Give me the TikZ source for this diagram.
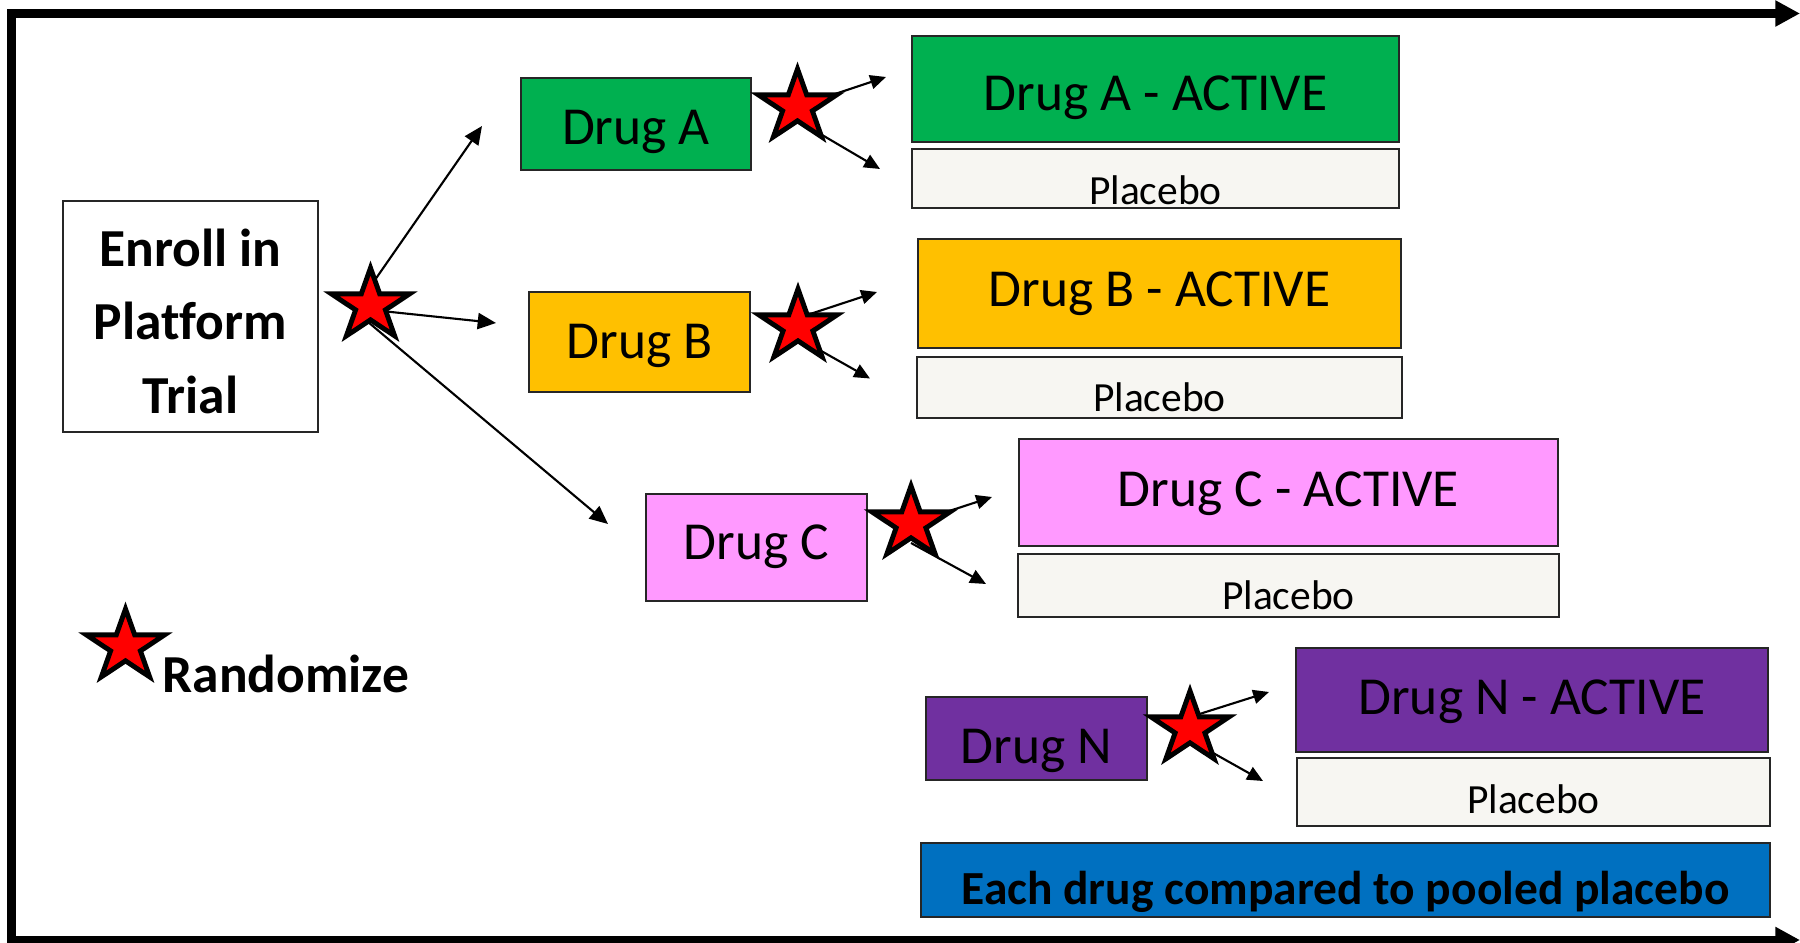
\documentclass[tikz,border=0pt]{standalone}
\usepackage{fontspec}
\setmainfont{Carlito}[Ligatures=NoCommon]
\usetikzlibrary{arrows.meta,calc}
\definecolor{drugA}{HTML}{00B050}
\definecolor{drugB}{HTML}{FFC000}
\definecolor{drugC}{HTML}{FF99FF}
\definecolor{drugN}{HTML}{7030A0}
\definecolor{pooled}{HTML}{0070C0}
\definecolor{placebofill}{HTML}{F7F6F2}
\begin{document}
\begin{tikzpicture}[x=0.01cm, y=-0.01cm,
  box/.style 2 args={draw=black!85, line width=0.6pt, minimum width=#1*0.01cm,
    minimum height=#2*0.01cm, inner sep=0pt, outer sep=0pt},
  drugtxt/.style={font=\fontsize{15.2}{18}\selectfont, anchor=base, inner sep=0pt},
  placebotxt/.style={font=\fontsize{11.8}{14}\selectfont, anchor=base, inner sep=0pt},
  boldtxt/.style={font=\fontsize{15.2}{18}\selectfont\bfseries, anchor=base, inner sep=0pt},
  pooledtxt/.style={font=\fontsize{13.5}{16}\selectfont\bfseries, anchor=base, inner sep=0pt},
  link/.style={line width=0.6pt, -{Triangle[length=4.5pt,width=4pt]}},
  biglink/.style={line width=0.6pt, -{Triangle[length=5.2pt,width=4.6pt]}},
  frameline/.style={line width=2.4pt, line join=miter},
  rstar/.pic={\draw[fill=red, line width=1.4pt, line join=miter, x=0.41cm, y=0.375cm]
    (0,1) -- (0.2245,0.309) -- (0.9511,0.309) -- (0.3633,-0.118) -- (0.5878,-0.809)
    -- (0,-0.382) -- (-0.5878,-0.809) -- (-0.3633,-0.118) -- (-0.9511,0.309)
    -- (-0.2245,0.309) -- cycle;}
]
\useasboundingbox (0,0) rectangle (1800,943);

% enrolment box
\node[box={255}{231}, fill=white] (enroll) at (190.5,316.5) {};
\node[boldtxt] (enrollA) at (190.5,267) {Enroll in};
\node[boldtxt] (enrollB) at (190.5,340) {Platform};
\node[boldtxt] (enrollC) at (190.5,413) {Trial};

% drug arms
\node[box={230}{92}, fill=drugA] (drA) at (636,124) {};
\node[drugtxt] (drAt) at (636,145) {Drug A};
\node[box={221}{100}, fill=drugB] (drB) at (639.5,342) {};
\node[drugtxt] (drBt) at (639.5,359) {Drug B};
\node[box={221}{107}, fill=drugC] (drC) at (756.5,547.5) {};
\node[drugtxt] (drCt) at (756.5,559) {Drug C};
\node[box={221}{83}, fill=drugN] (drN) at (1036.5,738.5) {};
\node[drugtxt] (drNt) at (1036.5,763) {Drug N};

% active and placebo groups
\node[box={487}{106}, fill=drugA] (actA) at (1155.5,89) {};
\node[drugtxt] (actAt) at (1155.5,111) {Drug A - ACTIVE};
\node[box={487}{59}, fill=placebofill] (plA) at (1155.5,178.5) {};
\node[placebotxt] (plAt) at (1155.5,205) {Placebo};

\node[box={483}{109}, fill=drugB] (actB) at (1159.5,293.5) {};
\node[drugtxt] (actBt) at (1159.5,307) {Drug B - ACTIVE};
\node[box={485}{61}, fill=placebofill] (plB) at (1159.5,387.5) {};
\node[placebotxt] (plBt) at (1159.5,412) {Placebo};

\node[box={539}{107}, fill=drugC] (actC) at (1288.5,492.5) {};
\node[drugtxt] (actCt) at (1288.5,506) {Drug C - ACTIVE};
\node[box={541}{63}, fill=placebofill] (plC) at (1288.5,585.5) {};
\node[placebotxt] (plCt) at (1288.5,609) {Placebo};

\node[box={472}{104}, fill=drugN] (actN) at (1532,700) {};
\node[drugtxt] (actNt) at (1532,714) {Drug N - ACTIVE};
\node[box={473}{68}, fill=placebofill] (plN) at (1533.5,792) {};
\node[placebotxt] (plNt) at (1533.5,813) {Placebo};

% pooled comparison banner
\node[box={849}{74}, fill=pooled] (pool) at (1345.5,880) {};
\node[pooledtxt] (poolt) at (1345.5,904) {Each drug compared to pooled placebo};

% randomisation points
\coordinate (S0) at (370.5,305.5);
\coordinate (SA) at (797.5,106.5);
\coordinate (SB) at (798,326.5);
\coordinate (SC) at (911,523.5);
\coordinate (SN) at (1190,728.5);
\coordinate (SL) at (125.5,646.5);

% arrow ends
\coordinate (toA) at (482,126);
\coordinate (toB) at (496,323);
\coordinate (toC) at (608,524);
\coordinate (aUp) at (886,77);
\coordinate (aDn) at (880,169);
\coordinate (bUp) at (877,292);
\coordinate (bDn) at (870,378.5);
\coordinate (cUp) at (992,497);
\coordinate (cDn) at (986,584);
\coordinate (nUp) at (1269,692);
\coordinate (nDn) at (1263,781);

\draw[biglink] ($(S0)+(-9.5,-5.5)$) -- (toA);
\draw[biglink] ($(S0)+(1.5,4.5)$) -- (toB);
\draw[biglink] ($(S0)+(-2.5,16.5)$) -- (toC);
\draw[link] (SA) -- (aUp);
\draw[link] ($(SA)+(2.5,15.5)$) -- (aDn);
\draw[link] ($(SB)+(0,-8.5)$) -- (bUp);
\draw[link] ($(SB)+(2,12.5)$) -- (bDn);
\draw[link] (SC) -- (cUp);
\draw[link] ($(SC)+(0,19.5)$) -- (cDn);
\draw[link] ($(SN)+(0,-11.5)$) -- (nUp);
\draw[link] ($(SN)+(0,11.5)$) -- (nDn);

\foreach \s in {S0,SA,SB,SC,SN,SL} \pic at (\s) {rstar};

% legend
\node[boldtxt, anchor=base west] (legend) at (162,692) {Randomize};

% time frame
\coordinate (ftop) at (1800,13.5);
\coordinate (fnw) at (11.5,13.5);
\coordinate (fsw) at (11.5,940);
\coordinate (fbot) at (1800,940);
\draw[frameline, {Triangle[length=7pt,width=7pt]}-{Triangle[length=7pt,width=7pt]}]
  (ftop) -- (fnw) -- (fsw) -- (fbot);
\end{tikzpicture}
\end{document}
